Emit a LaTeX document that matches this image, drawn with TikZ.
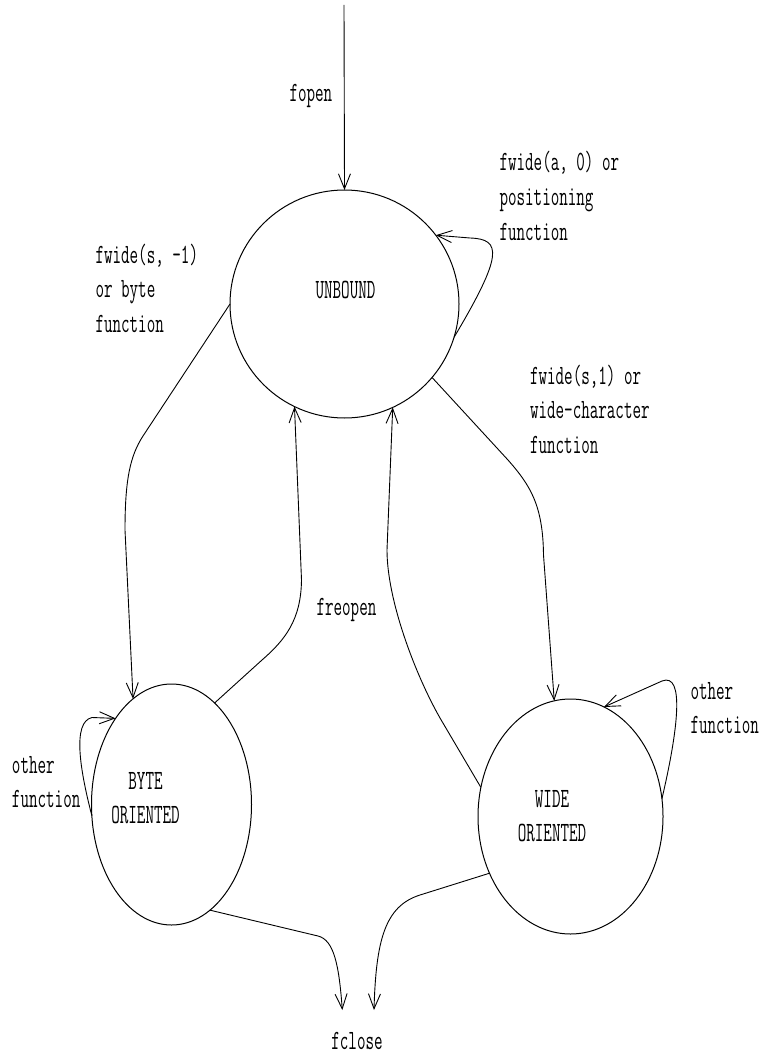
\documentclass[tikz,border=0pt]{standalone}
\usepackage{fontspec}
\usepackage{graphicx}
\usetikzlibrary{shapes.geometric,arrows.meta}
\newcommand{\mylbl}[2][l]{\scalebox{1}[1.68]{\begin{tabular}[t]{@{}#1@{}}#2\end{tabular}}}
\begin{document}
\begin{tikzpicture}[x=1pt,y=-1pt,
  every node/.style={inner sep=0pt,outer sep=0pt},
  state/.style={ellipse,draw,line width=1pt},
  txt/.style={font=\fontsize{16.6}{20.8}\selectfont\ttfamily},
  conn/.style={line width=0.9pt,-{Straight Barb[length=15pt,width=12pt]}}]
\useasboundingbox (0,0) rectangle (766,1059);
% states
\node[state, minimum width=229pt, minimum height=228pt] (U) at (344.5,304) {};
\node[state, minimum width=160pt, minimum height=241pt] (B) at (171.5,804.5) {};
\node[state, minimum width=185pt, minimum height=235pt] (W) at (570.5,816.5) {};
% texts
\node[txt, anchor=base] (Ut) at (345.5,298.3) {\mylbl{UNBOUND}};
\node[txt, anchor=base] (Bt) at (145.5,789) {\mylbl[c]{BYTE\\ORIENTED}};
\node[txt, anchor=base] (Wt) at (552,807) {\mylbl[c]{WIDE\\ORIENTED}};
\node[txt, anchor=base west] (lfopen) at (289.5,101.7) {\mylbl{fopen}};
\node[txt, anchor=base west] (lpos) at (499.5,171) {\mylbl{fwide(a, 0) or\\positioning\\function}};
\node[txt, anchor=base west] (lbyte) at (95.5,263) {\mylbl{fwide(s, -1)\\or byte\\function}};
\node[txt, anchor=base west] (lwide) at (530,384) {\mylbl{fwide(s,1) or\\wide-character\\function}};
\node[txt, anchor=base west] (lfreopen) at (316.5,615) {\mylbl{freopen}};
\node[txt, anchor=base west] (lob) at (12,773) {\mylbl{other\\function}};
\node[txt, anchor=base west] (low) at (690.5,699) {\mylbl{other\\function}};
\node[txt, anchor=base] (F) at (357,1049) {\mylbl{fclose}};
% free ends
\coordinate (top) at (344,5);
\coordinate (fc1) at (342.3,1010);
\coordinate (fc2) at (374,1010);
% connectors
\draw[conn] (top) -- (U.north);
\draw[conn] (U.-17) .. controls (503,255) and (502,239) .. (470,238) -- (U.37);
\draw[conn] (U.180) -- (143,436) .. controls (130,456) and (125,480) .. (125,530) -- (B.110);
\draw[conn] (U.-40) -- (508,460) .. controls (530,485) and (543,505) .. (543.5,555) -- (W.98.5);
\draw[conn] (B.67) -- (262,660) .. controls (285,640) and (301,620) .. (301.5,580) -- (U.-116);
\draw[conn] (W.162) -- (440,718) .. controls (415,674) and (387,600) .. (387,550) -- (U.-65);
\draw[conn] (B.188) .. controls (80,770) and (72,722) .. (92,717.5) -- (B.123);
\draw[conn] (W.11) .. controls (678,730) and (685,672) .. (662,681) -- (W.73);
\draw[conn] (B.-70) -- (318,936) .. controls (334,940) and (339,965) .. (fc1);
\draw[conn] (W.215) -- (420,895) .. controls (385,906) and (376,940) .. (fc2);
\end{tikzpicture}
\end{document}
